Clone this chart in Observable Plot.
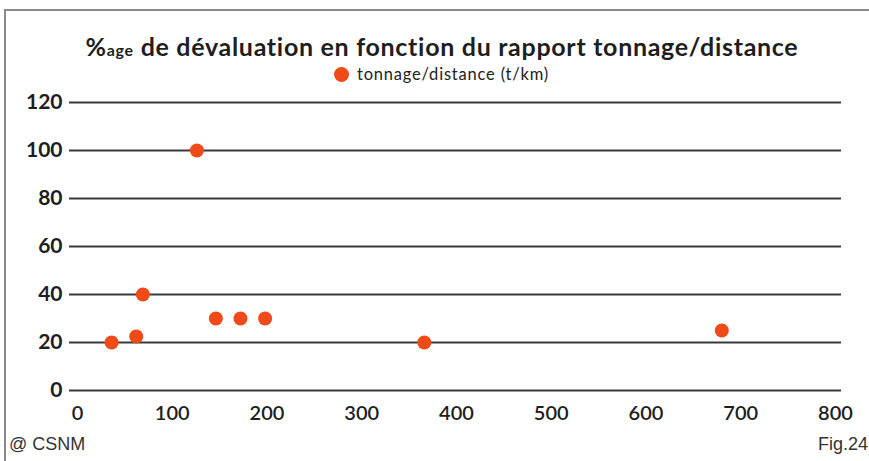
<!DOCTYPE html>
<html>
<head>
<meta charset="utf-8">
<script src="https://cdn.jsdelivr.net/npm/d3@7"></script>
<script src="https://cdn.jsdelivr.net/npm/@observablehq/plot@0.6"></script>
<style>
  html, body { margin: 0; padding: 0; background: #fff; }
  #wrap { position: relative; width: 869px; height: 461px; overflow: hidden; background: #fff; font-family: Lato, "DejaVu Sans", sans-serif; }
  .bt { position: absolute; left: 5px; top: 9px; right: 0; height: 2px; background: #8a8a8a; }
  .bl { position: absolute; left: 4px; top: 9px; bottom: 0; width: 2px; background: #8a8a8a; }
  #title { position: absolute; left: 0; width: 884px; top: 31px; text-align: center; font-weight: 700; font-size: 25px; letter-spacing: 0.7px; color: #1e1e1e; white-space: nowrap; }
  #title small { font-size: 16px; }
  #legend { position: absolute; left: 334px; top: 64px; font-size: 16.5px; letter-spacing: 0.8px; color: #222; white-space: nowrap; }
  #legend .dot { display: inline-block; width: 15px; height: 15px; border-radius: 50%; background: #ef4a17; vertical-align: -2px; margin-right: 8px; }
  #chart { position: absolute; left: 0; top: 70px; }
  #chart svg { overflow: visible; }
  .cap { position: absolute; top: 434px; font-family: "Liberation Sans", Arial, sans-serif; font-size: 18px; color: #333; white-space: nowrap; }
</style>
</head>
<body>
<div id="wrap">
  <div class="bt"></div>
  <div class="bl"></div>
  <div id="chart"></div>
  <div id="title">%<small>age</small> de dévaluation en fonction du rapport tonnage/distance</div>
  <div id="legend"><span class="dot"></span>tonnage/distance (t/km)</div>
  <div class="cap" style="left:9px">@ CSNM</div>
  <div class="cap" style="left:818px">Fig.24</div>
</div>
<script>
const tonnageDistance = [36, 62, 69, 126, 146, 172, 198, 366, 680];
const devaluation = [20, 22.5, 40, 100, 30, 30, 30, 20, 25];
const xTicks = [0, 100, 200, 300, 400, 500, 600, 700, 800];
const yTicks = [0, 20, 40, 60, 80, 100, 120];

const points = tonnageDistance.map((x, i) => ({x, y: devaluation[i]}));

const chart = Plot.plot({
  width: 869,
  height: 360,
  marginTop: 32,
  marginBottom: 40,
  marginLeft: 69,
  marginRight: 28,
  style: { fontFamily: "Lato, 'DejaVu Sans', sans-serif", background: "transparent", color: "#1e1e1e" },
  x: { domain: [0, 800], insetLeft: 8, insetRight: 6 },
  y: { domain: [0, 120] },
  marks: [
    Plot.ruleY(yTicks, { stroke: "#3a3a3a", strokeWidth: 2 }),
    Plot.axisX({ ticks: xTicks, tickSize: 0, tickPadding: 15, label: null, fontSize: 20, fontWeight: 600, tickFormat: d => String(d) }),
    Plot.axisY({ ticks: yTicks, tickSize: 0, tickPadding: 7, label: null, fontSize: 21, fontWeight: 700, tickFormat: d => String(d) }),
    Plot.dot(points, { x: "x", y: "y", r: 7, fill: "#ef4a17", stroke: "none" })
  ]
});
document.getElementById("chart").appendChild(chart);
</script>
</body>
</html>
